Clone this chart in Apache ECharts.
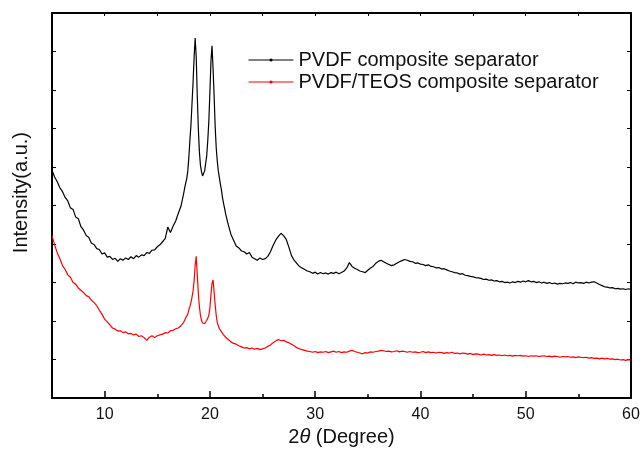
<!DOCTYPE html>
<html>
<head>
<meta charset="utf-8">
<script src="https://cdn.jsdelivr.net/npm/echarts@6/dist/echarts.min.js"></script>
<style>
  html, body { margin: 0; padding: 0; background: #fff; }
  #chart { width: 643px; height: 452px; }
</style>
</head>
<body>
<div id="chart"></div>
<script>
// 2θ positions (degree)
const twoTheta = [
  5, 5.25, 5.5, 5.75, 6, 6.25, 6.5, 6.75, 7, 7.25, 7.5, 7.75,
  8, 8.25, 8.5, 8.75, 9, 9.25, 9.5, 9.75, 10, 10.25, 10.5, 10.75,
  11, 11.25, 11.5, 11.75, 12, 12.25, 12.5, 12.75, 13, 13.25, 13.5, 13.75,
  14, 14.25, 14.5, 14.75, 15, 15.25, 15.5, 15.75, 16, 16.25, 16.5, 16.75,
  17, 17.25, 17.5,
  17.6, 17.7, 17.8, 17.9, 18, 18.1, 18.2, 18.3, 18.4, 18.5,
  18.6, 18.7, 18.8, 18.9, 19, 19.1, 19.2, 19.3, 19.4, 19.5,
  19.6, 19.7, 19.8, 19.9, 20, 20.1, 20.2, 20.3, 20.4, 20.5,
  20.6, 20.7, 20.8, 20.9, 21, 21.1, 21.2, 21.3, 21.4,
  21.5, 21.75,
  22, 22.25, 22.5, 22.75, 23, 23.25, 23.5, 23.75,
  24, 24.25, 24.5, 24.75, 25, 25.25, 25.5, 25.75,
  26, 26.25, 26.5, 26.75, 27, 27.25, 27.5, 27.75,
  28, 28.25, 28.5, 28.75, 29, 29.25, 29.5, 29.75,
  30, 30.25, 30.5, 30.75, 31, 31.25, 31.5, 31.75,
  32, 32.25, 32.5, 32.75, 33, 33.25, 33.5, 33.75,
  34, 34.25, 34.5, 34.75, 35, 35.25, 35.5, 35.75,
  36, 36.25, 36.5, 36.75, 37, 37.25, 37.5, 37.75,
  38, 38.25, 38.5, 38.75, 39, 39.25, 39.5, 39.75,
  40, 40.25, 40.5, 40.75, 41, 41.25, 41.5, 41.75,
  42, 42.25, 42.5, 42.75, 43, 43.25, 43.5, 43.75,
  44, 44.25, 44.5, 44.75, 45, 45.25, 45.5, 45.75,
  46, 46.25, 46.5, 46.75, 47, 47.25, 47.5, 47.75,
  48, 48.25, 48.5, 48.75, 49, 49.25, 49.5, 49.75,
  50, 50.25, 50.5, 50.75, 51, 51.25, 51.5, 51.75,
  52, 52.25, 52.5, 52.75, 53, 53.25, 53.5, 53.75,
  54, 54.25, 54.5, 54.75, 55, 55.25, 55.5, 55.75,
  56, 56.25, 56.5, 56.75, 57, 57.25, 57.5, 57.75,
  58, 58.25, 58.5, 58.75, 59, 59.25, 59.5, 59.75,
  60
]

// PVDF composite separator (a.u.)
const pvdf = [
  5.92, 5.74, 5.62, 5.46, 5.36, 5.21, 5.12, 4.94, 4.90, 4.70, 4.66, 4.45,
  4.36, 4.22, 4.17, 4.02, 3.99, 3.88, 3.86, 3.74, 3.77, 3.66, 3.68, 3.60,
  3.63, 3.55, 3.62, 3.58, 3.64, 3.60, 3.67, 3.62, 3.70, 3.66, 3.72, 3.70,
  3.78, 3.76, 3.84, 3.85, 3.93, 3.98, 4.06, 4.14, 4.44, 4.30, 4.46, 4.60,
  4.80, 4.98, 5.30,
  5.45, 5.58, 5.70, 5.90, 6.25, 6.70, 7.10, 7.65, 8.20, 8.85,
  9.35, 8.85, 7.85, 7.00, 6.40, 6.05, 5.88, 5.77, 5.78, 5.90,
  6.10, 6.30, 6.70, 7.20, 7.95, 8.75, 9.15, 8.55, 7.85, 7.05,
  6.50, 6.15, 5.90, 5.72, 5.55, 5.40, 5.20, 5.05, 4.92,
  4.78, 4.50,
  4.25, 4.10, 3.95, 3.90, 3.82, 3.80, 3.74, 3.78,
  3.66, 3.62, 3.58, 3.64, 3.60, 3.62, 3.68, 3.80,
  3.96, 4.10, 4.20, 4.28, 4.22, 4.12, 3.92, 3.70,
  3.58, 3.50, 3.42, 3.38, 3.34, 3.30, 3.28, 3.24,
  3.27, 3.22, 3.26, 3.23, 3.25, 3.22, 3.26, 3.24,
  3.27, 3.23, 3.26, 3.30, 3.38, 3.52, 3.42, 3.37,
  3.34, 3.30, 3.28, 3.26, 3.32, 3.38, 3.42, 3.50,
  3.55, 3.58, 3.54, 3.50, 3.47, 3.44, 3.46, 3.50,
  3.54, 3.57, 3.60, 3.58, 3.55, 3.54, 3.50, 3.51,
  3.48, 3.47, 3.44, 3.46, 3.42, 3.41, 3.38, 3.39,
  3.35, 3.36, 3.33, 3.30, 3.28, 3.26, 3.25, 3.22,
  3.23, 3.19, 3.18, 3.16, 3.15, 3.13, 3.12, 3.11,
  3.08, 3.09, 3.06, 3.07, 3.04, 3.05, 3.02, 3.03,
  3.00, 3.01, 2.99, 3.02, 3.00, 3.03, 3.01, 3.04,
  3.02, 3.05, 3.02, 3.03, 3.00, 3.02, 2.99, 3.01,
  2.98, 3.00, 2.97, 2.99, 2.96, 2.98, 2.97, 2.99,
  2.98, 3.00, 2.97, 3.01, 2.99, 3.00, 2.98, 3.01,
  2.99, 3.01, 3.02, 2.99, 2.95, 2.92, 2.89, 2.88,
  2.86, 2.87, 2.84, 2.85, 2.83, 2.84, 2.82, 2.84,
  2.82
]

// PVDF/TEOS composite separator (a.u.)
const pvdfTeos = [
  4.22, 3.98, 3.77, 3.62, 3.44, 3.34, 3.20, 3.14, 3.00, 2.96, 2.86, 2.80,
  2.74, 2.66, 2.63, 2.54, 2.48, 2.40, 2.28, 2.18, 2.05, 1.98, 1.90, 1.82,
  1.79, 1.74, 1.75, 1.70, 1.72, 1.67, 1.68, 1.64, 1.66, 1.60, 1.62, 1.57,
  1.50, 1.58, 1.62, 1.57, 1.62, 1.64, 1.66, 1.70, 1.69, 1.75, 1.76, 1.80,
  1.82, 1.88, 1.96,
  2.02, 2.08, 2.12, 2.18, 2.30, 2.38, 2.48, 2.62, 2.78, 3.05,
  3.45, 3.68, 3.20, 2.73, 2.38, 2.15, 2.02, 1.95, 1.91, 1.93,
  1.97, 2.02, 2.08, 2.15, 2.35, 2.68, 2.98, 3.07, 2.75, 2.42,
  2.15, 1.96, 1.88, 1.80, 1.76, 1.72, 1.70, 1.64, 1.60,
  1.58, 1.52,
  1.46, 1.42, 1.40, 1.36, 1.33, 1.30, 1.31, 1.28,
  1.30, 1.27, 1.29, 1.26, 1.28, 1.30, 1.34, 1.38,
  1.44, 1.48, 1.52, 1.49, 1.50, 1.46, 1.44, 1.40,
  1.36, 1.31, 1.28, 1.26, 1.24, 1.22, 1.21, 1.19,
  1.21, 1.18, 1.20, 1.19, 1.21, 1.18, 1.20, 1.22,
  1.19, 1.21, 1.18, 1.20, 1.19, 1.22, 1.24, 1.21,
  1.19, 1.17, 1.15, 1.18, 1.17, 1.20, 1.19, 1.21,
  1.22, 1.24, 1.23, 1.21, 1.22, 1.20, 1.21, 1.23,
  1.20, 1.22, 1.21, 1.19, 1.21, 1.19, 1.20, 1.18,
  1.19, 1.21, 1.18, 1.20, 1.18, 1.19, 1.17, 1.19,
  1.18, 1.16, 1.18, 1.17, 1.19, 1.16, 1.17, 1.15,
  1.17, 1.16, 1.14, 1.16, 1.13, 1.15, 1.14, 1.12,
  1.14, 1.12, 1.13, 1.11, 1.13, 1.11, 1.12, 1.10,
  1.12, 1.10, 1.11, 1.09, 1.11, 1.10, 1.11, 1.09,
  1.10, 1.08, 1.10, 1.09, 1.10, 1.08, 1.09, 1.10,
  1.08, 1.09, 1.07, 1.09, 1.08, 1.06, 1.08, 1.07,
  1.08, 1.06, 1.07, 1.05, 1.07, 1.06, 1.05, 1.06,
  1.04, 1.05, 1.03, 1.04, 1.02, 1.04, 1.02, 1.03,
  1.01, 1.02, 1.00, 1.01, 0.99, 1.00, 0.98, 1.00,
  0.99
]

const seriesNames = ['PVDF composite separator', 'PVDF/TEOS composite separator']
const xLabelTicks = [10, 20, 30, 40, 50, 60]

const pairs = (ys) => twoTheta.map((x, i) => [x, ys[i]])

const font = 'Arial, "Liberation Sans", sans-serif'
const axisLine = { show: true, onZero: false, lineStyle: { color: '#000', width: 2 } }

const chart = echarts.init(document.getElementById('chart'), null, { renderer: 'canvas' })
chart.setOption({
  animation: false,
  backgroundColor: '#fff',
  textStyle: { fontFamily: font },
  grid: { left: 52, right: 12, top: 13, bottom: 49, containLabel: false },
  legend: {
    data: seriesNames,
    orient: 'vertical',
    left: 248,
    top: 50,
    padding: 0,
    itemWidth: 45,
    itemHeight: 4,
    itemGap: 2,
    lineStyle: { width: 1 },
    textStyle: { fontSize: 20, color: '#111', fontFamily: font }
  },
  xAxis: [
    {
      type: 'value', min: 5, max: 60, interval: 5, position: 'bottom',
      axisLine,
      axisTick: { inside: true, length: 7, customValues: xLabelTicks, lineStyle: { color: '#000', width: 1.5 } },
      axisLabel: {
        fontSize: 16, color: '#111', margin: 8,
        formatter: (v) => (v % 10 === 0 ? String(v) : '')
      },
      splitLine: { show: false },
      name: '2{i|θ} (Degree)',
      nameLocation: 'middle',
      nameGap: 27,
      nameTextStyle: { fontSize: 20, color: '#111', rich: { i: { fontSize: 20, fontStyle: 'italic', color: '#111' } } }
    },
    {
      type: 'value', min: 5, max: 60, interval: 5, position: 'bottom',
      axisLine: { show: false },
      axisTick: { inside: true, length: 4, lineStyle: { color: '#000', width: 1.5 } },
      axisLabel: { show: false },
      splitLine: { show: false }
    },
    {
      type: 'value', min: 5, max: 60, interval: 5, position: 'top',
      axisLine,
      axisTick: { inside: true, length: 3, lineStyle: { color: '#000', width: 1 } },
      axisLabel: { show: false },
      splitLine: { show: false }
    }
  ],
  yAxis: [
    {
      type: 'value', min: 0, max: 10, interval: 1, position: 'left',
      axisLine,
      axisTick: { inside: true, length: 4, lineStyle: { color: '#000', width: 1 } },
      axisLabel: { show: false },
      splitLine: { show: false },
      name: 'Intensity(a.u.)',
      nameLocation: 'middle',
      nameGap: 21,
      nameTextStyle: { fontSize: 20, color: '#111', padding: [0, 0, 0, 26] }
    },
    {
      type: 'value', min: 0, max: 10, interval: 1, position: 'right',
      axisLine,
      axisTick: { inside: true, length: 4, lineStyle: { color: '#000', width: 1 } },
      axisLabel: { show: false },
      splitLine: { show: false }
    }
  ],
  series: [
    {
      name: seriesNames[0],
      type: 'line',
      data: pairs(pvdf),
      showSymbol: false,
      symbol: 'circle',
      symbolSize: 2,
      lineStyle: { color: '#000', width: 1.2 },
      itemStyle: { color: '#000' }
    },
    {
      name: seriesNames[1],
      type: 'line',
      data: pairs(pvdfTeos),
      showSymbol: false,
      symbol: 'circle',
      symbolSize: 2,
      lineStyle: { color: '#ff0000', width: 1.2 },
      itemStyle: { color: '#ff0000' }
    }
  ]
})
</script>
</body>
</html>
